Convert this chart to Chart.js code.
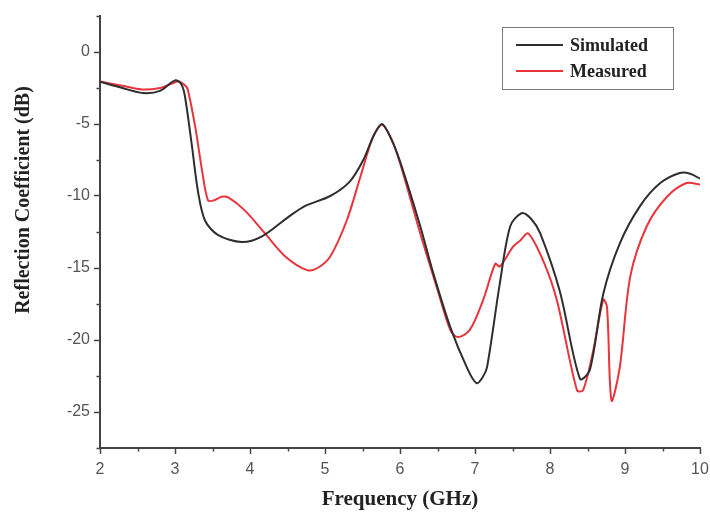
<!DOCTYPE html>
<html>
<head>
<meta charset="utf-8">
<script src="https://cdn.jsdelivr.net/npm/chart.js@4"></script>
<style>
html,body{margin:0;padding:0;background:#fff;}
#wrap{position:relative;width:710px;height:512px;}
</style>
</head>
<body>
<div id="wrap"><canvas id="c" width="710" height="512"></canvas></div>
<script>
// ---- data ----
const simFreq = [2.0, 2.3, 2.57, 2.8, 3.0, 3.08, 3.13, 3.22, 3.31, 3.4, 3.57, 3.89, 4.16, 4.5, 4.73, 5.07, 5.33, 5.51, 5.65, 5.76, 5.88, 6.0, 6.27, 6.44, 6.67, 6.9, 7.02, 7.1, 7.16, 7.33, 7.47, 7.62, 7.75, 7.87, 8.13, 8.4, 8.53, 8.71, 8.93, 9.2, 9.47, 9.73, 9.87, 10.0];
const simDb   = [-2.07, -2.5, -2.85, -2.7, -1.97, -2.2, -3.0, -6.3, -9.8, -11.7, -12.7, -13.2, -12.8, -11.5, -10.7, -10.0, -9.0, -7.5, -5.8, -5.0, -6.0, -7.6, -12.1, -15.3, -19.1, -22.0, -23.0, -22.6, -21.9, -16.1, -12.1, -11.2, -11.6, -12.6, -16.6, -22.7, -22.1, -16.8, -13.3, -10.7, -9.1, -8.4, -8.45, -8.8];

const measFreq = [2.0, 2.3, 2.56, 2.8, 2.96, 3.04, 3.13, 3.17, 3.27, 3.36, 3.44, 3.52, 3.62, 3.71, 3.93, 4.2, 4.47, 4.76, 4.9, 5.07, 5.29, 5.47, 5.64, 5.76, 5.88, 6.0, 6.27, 6.5, 6.67, 6.77, 6.93, 7.11, 7.27, 7.33, 7.51, 7.6, 7.71, 7.91, 8.09, 8.36, 8.44, 8.57, 8.71, 8.76, 8.82, 8.93, 9.07, 9.29, 9.56, 9.82, 10.0];
const measDb   = [-2.05, -2.35, -2.6, -2.5, -2.2, -2.05, -2.3, -2.6, -5.2, -8.2, -10.3, -10.3, -10.05, -10.1, -11.0, -12.6, -14.2, -15.15, -15.0, -14.2, -11.7, -8.7, -5.9, -5.06, -6.0, -7.7, -12.6, -16.5, -19.3, -19.8, -19.3, -17.2, -14.7, -14.9, -13.5, -13.1, -12.6, -14.5, -17.2, -23.5, -23.5, -20.9, -17.2, -17.7, -24.2, -21.9, -15.6, -12.1, -10.05, -9.1, -9.2];

const seriesNames = ['Simulated', 'Measured'];
const xTickLabels = ['2', '3', '4', '5', '6', '7', '8', '9', '10'];
const yTickLabels = ['0', '-5', '-10', '-15', '-20', '-25'];
const xTitle = 'Frequency (GHz)';
const yTitle = 'Reflection Coefficient (dB)';

const toPts = (xs, ys) => xs.map((x, i) => ({x: x, y: ys[i]}));

const AXIS = '#444';
const LABEL = '#555';
const SERIF = '"Liberation Serif", "Times New Roman", serif';

// minor tick marks, y title, legend box
const extras = {
  id: 'extras',
  afterDraw(chart) {
    const ctx = chart.ctx;
    const xs = chart.scales.x, ys = chart.scales.y;
    ctx.save();
    ctx.strokeStyle = AXIS;
    ctx.lineWidth = 1.5;
    xs.ticks.forEach(t => {
      if (Math.abs(t.value - Math.round(t.value)) > 1e-6) {
        const px = Math.round(xs.getPixelForValue(t.value)) + 0.5;
        ctx.beginPath(); ctx.moveTo(px, xs.top); ctx.lineTo(px, xs.top + 3.5); ctx.stroke();
      }
    });
    ys.ticks.forEach(t => {
      if (Math.abs(t.value / 5 - Math.round(t.value / 5)) > 1e-6) {
        const py = Math.round(ys.getPixelForValue(t.value)) + 0.5;
        ctx.beginPath(); ctx.moveTo(ys.right, py); ctx.lineTo(ys.right - 3.5, py); ctx.stroke();
      }
    });
    // y axis title
    ctx.save();
    ctx.translate(24, 200);
    ctx.rotate(-Math.PI / 2);
    ctx.font = 'bold 20px ' + SERIF;
    ctx.fillStyle = '#222';
    ctx.textAlign = 'center';
    ctx.textBaseline = 'middle';
    ctx.fillText(yTitle, 0, 0);
    ctx.restore();
    // legend
    const bx = 502, by = 27, bw = 171, bh = 62;
    ctx.strokeStyle = '#7a7a7a';
    ctx.lineWidth = 1;
    ctx.strokeRect(bx + 0.5, by + 0.5, bw, bh);
    ctx.font = 'bold 18px ' + SERIF;
    ctx.textBaseline = 'middle';
    ctx.fillStyle = '#222';
    chart.data.datasets.forEach((ds, i) => {
      const yy = by + 18 + i * 26;
      ctx.strokeStyle = ds.borderColor;
      ctx.lineWidth = 2;
      ctx.beginPath(); ctx.moveTo(516, yy); ctx.lineTo(563, yy); ctx.stroke();
      ctx.fillText(ds.label, 570, yy + 1);
    });
    ctx.restore();
  }
};

new Chart(document.getElementById('c'), {
  type: 'line',
  data: {
    datasets: [
      { label: seriesNames[0], data: toPts(simFreq, simDb), borderColor: '#2e2e2e', borderWidth: 2,
        pointRadius: 0, tension: 0.3, fill: false },
      { label: seriesNames[1], data: toPts(measFreq, measDb), borderColor: '#e8353c', borderWidth: 2,
        pointRadius: 0, tension: 0.3, fill: false }
    ]
  },
  options: {
    responsive: false,
    animation: false,
    layout: { padding: { left: 0, right: 0, top: 16, bottom: 0 } },
    plugins: { legend: { display: false }, tooltip: { enabled: false } },
    scales: {
      x: {
        type: 'linear', min: 2, max: 10,
        ticks: {
          stepSize: 0.5, color: LABEL, padding: 6,
          font: { family: 'Arial, "Liberation Sans", sans-serif', size: 16 },
          maxRotation: 0, autoSkip: false,
          callback: (v) => { const k = xTickLabels.indexOf(String(v)); return k >= 0 ? xTickLabels[k] : ''; }
        },
        grid: { display: true, drawOnChartArea: false, drawTicks: true, tickLength: 6,
                tickWidth: 1.5,
                tickColor: (c) => (c.tick && Number.isInteger(c.tick.value)) ? AXIS : 'rgba(0,0,0,0)' },
        border: { display: true, color: AXIS, width: 2 },
        title: { display: true, text: xTitle, color: '#222', padding: { top: 4, bottom: 0 },
                 font: { family: SERIF, size: 21, weight: 'bold' } },
        afterFit: (s) => { s.height = 64; s.paddingRight = 10; s.paddingLeft = 0; }
      },
      y: {
        type: 'linear', min: -27.5, max: 2.5,
        ticks: {
          stepSize: 2.5, color: LABEL, padding: 4,
          font: { family: 'Arial, "Liberation Sans", sans-serif', size: 16 },
          autoSkip: false,
          callback: (v) => { const k = yTickLabels.indexOf(String(v)); return k >= 0 ? yTickLabels[k] : ''; }
        },
        grid: { display: true, drawOnChartArea: false, drawTicks: true, tickLength: 6,
                tickWidth: 1.5,
                tickColor: (c) => (c.tick && Number.isInteger(c.tick.value / 5)) ? AXIS : 'rgba(0,0,0,0)' },
        border: { display: true, color: AXIS, width: 2 },
        title: { display: false },
        afterFit: (s) => { s.width = 100; s.paddingTop = 0; s.paddingBottom = 0; }
      }
    }
  },
  plugins: [extras]
});
</script>
</body>
</html>
